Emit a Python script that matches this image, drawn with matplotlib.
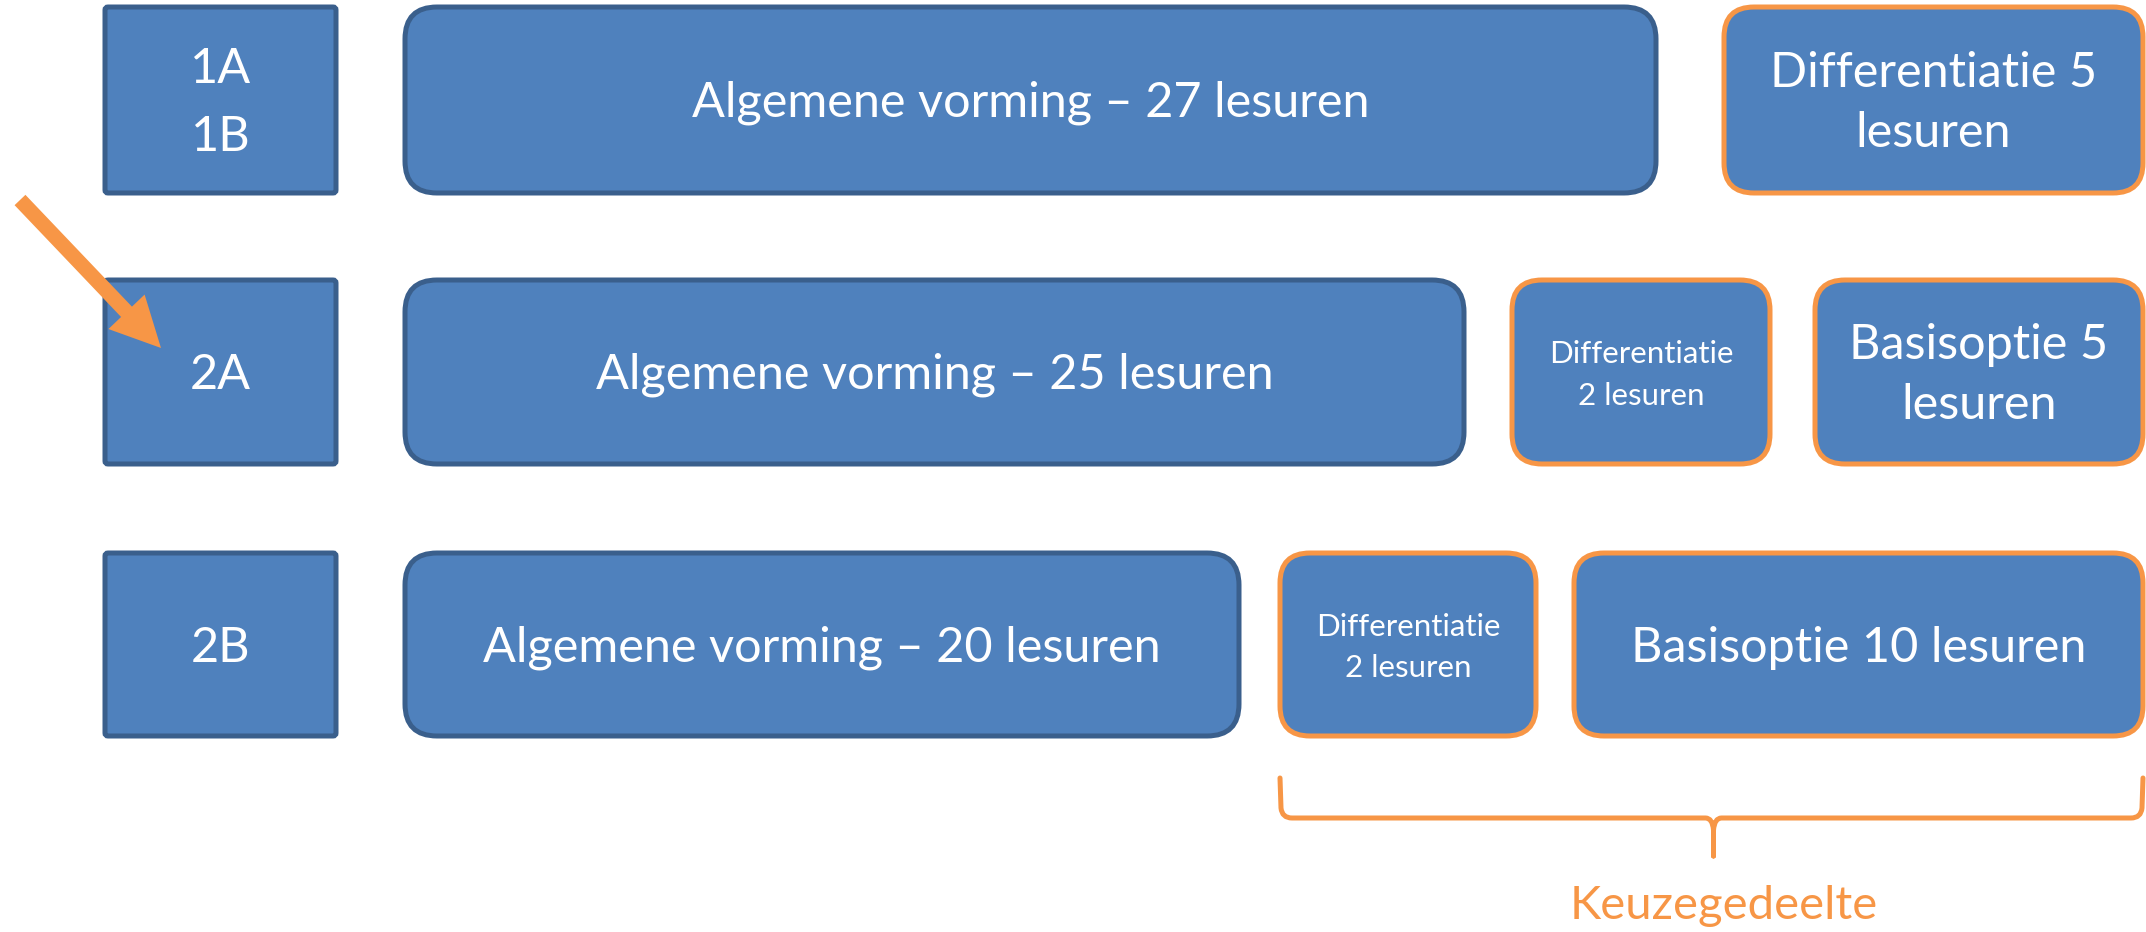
import matplotlib
matplotlib.use("Agg")
import matplotlib.pyplot as plt
from matplotlib.patches import FancyBboxPatch, FancyArrow, PathPatch
from matplotlib.path import Path

# ---- gegevens ----
klassen = ["1A\n1B", "2A", "2B"]
algemene_vorming = [27, 25, 20]
differentiatie = [5, 2, 2]
basisoptie = [None, 5, 10]
keuze_label = "Keuzegedeelte"

# ---- opmaak (pixels van de figuur) ----
rij_y = [(7, 193), (280, 464), (553, 736)]
klas_x = (105, 336)
alg_x = [(405, 1656), (405, 1464), (405, 1239)]
diff_x = [(1724, 2143), (1512, 1770), (1280, 1536)]
basis_x = [None, (1815, 2143), (1574, 2143)]

BLAUW = "#4F81BD"
DONKERBLAUW = "#3A5F8C"
ORANJE = "#F79646"
plt.rcParams["font.family"] = ["Lato", "DejaVu Sans"]

W, H = 2146, 932
fig = plt.figure(figsize=(W / 100, H / 100), dpi=100)
ax = fig.add_axes([0, 0, 1, 1])
ax.set_xlim(0, W)
ax.set_ylim(H, 0)
ax.set_aspect("equal")
ax.axis("off")


def doos(x, y, tekst, rand, radius, fs, ls=1.47):
    x0, x1 = x
    y0, y1 = y
    p = FancyBboxPatch((x0, y0), x1 - x0, y1 - y0,
                       boxstyle=f"round,pad=0,rounding_size={radius}",
                       fc=BLAUW, ec=rand, lw=3.6, zorder=2)
    ax.add_patch(p)
    ax.text((x0 + x1) / 2, (y0 + y1) / 2 + 3, tekst, color="white", fontsize=fs,
            ha="center", va="center", linespacing=ls, zorder=3)


for i, klas in enumerate(klassen):
    doos(klas_x, rij_y[i], klas, DONKERBLAUW, 3, 35, ls=1.64)
    doos(alg_x[i], rij_y[i], f"Algemene vorming \u2013 {algemene_vorming[i]} lesuren",
         DONKERBLAUW, 32, 35)
    if i == 0:
        doos(diff_x[i], rij_y[i], f"Differentiatie {differentiatie[i]}\nlesuren",
             ORANJE, 30, 35)
    else:
        doos(diff_x[i], rij_y[i], f"Differentiatie\n{differentiatie[i]} lesuren",
             ORANJE, 30, 22.5, ls=1.6)
    if basisoptie[i] is not None:
        if basisoptie[i] < 10:
            t = f"Basisoptie {basisoptie[i]}\nlesuren"
        else:
            t = f"Basisoptie {basisoptie[i]} lesuren"
        doos(basis_x[i], rij_y[i], t, ORANJE, 30, 35)

# accolade onder het keuzegedeelte
bx0 = diff_x[2][0]
bx1 = basis_x[2][1]
bm = (bx0 + bx1) / 2 + 2
ytop, ylijn, ypunt = 778, 818, 856
verts = [
    (bx0, ytop), (bx0 + 1, ylijn - 10), (bx0 + 2, ylijn), (bx0 + 12, ylijn),
    (bm - 8, ylijn), (bm - 1, ylijn), (bm, ylijn + 12), (bm, ypunt),
    (bm, ylijn + 12), (bm + 1, ylijn), (bm + 8, ylijn),
    (bx1 - 12, ylijn), (bx1 - 2, ylijn), (bx1 - 1, ylijn - 10), (bx1, ytop),
]
codes = [Path.MOVETO, Path.LINETO, Path.CURVE3, Path.CURVE3,
         Path.LINETO, Path.CURVE3, Path.CURVE3, Path.LINETO,
         Path.LINETO, Path.CURVE3, Path.CURVE3,
         Path.LINETO, Path.CURVE3, Path.CURVE3, Path.LINETO]
ax.add_patch(PathPatch(Path(verts, codes), fc="none", ec=ORANJE, lw=3.6,
                       capstyle="round", joinstyle="round"))
ax.text(bm + 10, 906, keuze_label, color=ORANJE, fontsize=34,
        ha="center", va="center")

# pijl naar 2A
ax.add_patch(FancyArrow(20, 200, 141, 148, width=15, head_width=50, head_length=50,
                        length_includes_head=True, fc=ORANJE, ec="none", zorder=4))

fig.savefig("out.png", dpi=100)
